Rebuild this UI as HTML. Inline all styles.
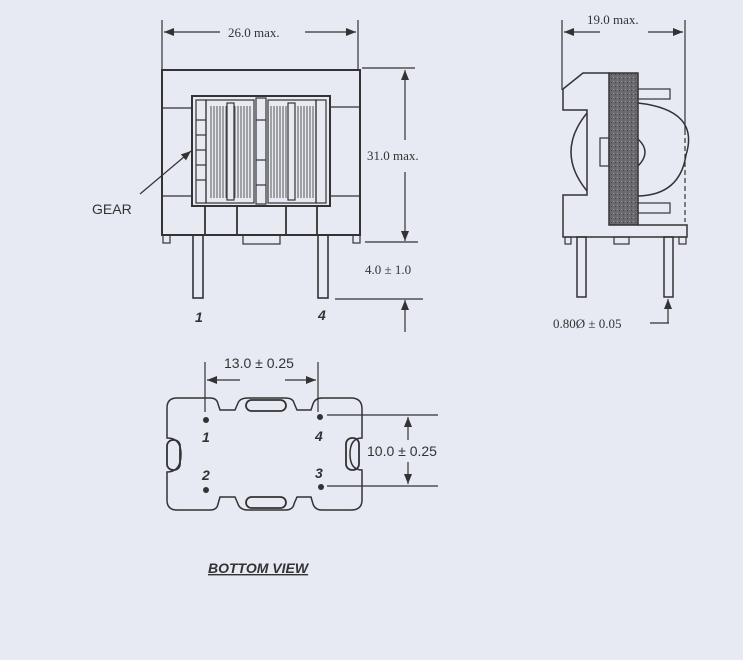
<!DOCTYPE html>
<html><head><meta charset="utf-8"><style>
html,body{margin:0;padding:0;background:#e7eaf3;}
svg{display:block;}
.s{font-family:"Liberation Serif",serif;font-size:13px;fill:#333;}
.a{font-family:"Liberation Sans",sans-serif;font-size:14px;fill:#333;}
</style></head><body>
<svg width="743" height="660" viewBox="0 0 743 660" xmlns="http://www.w3.org/2000/svg">
<defs>
<marker id="ar" markerWidth="10" markerHeight="8" refX="10" refY="4" orient="auto" markerUnits="userSpaceOnUse"><path d="M0,0 L10,4 L0,8 z" fill="#333"/></marker>
<pattern id="hatch" width="3" height="4" patternUnits="userSpaceOnUse"><rect width="3" height="4" fill="#e7eaf3"/><line x1="1" y1="0" x2="1" y2="4" stroke="#555" stroke-width="1"/></pattern>
<pattern id="dots" width="4" height="4" patternUnits="userSpaceOnUse"><rect width="4" height="4" fill="#6a6a70"/><rect x="1" y="1" width="1" height="1" fill="#999"/><rect x="3" y="2" width="1" height="1" fill="#444"/></pattern>
</defs>
<g stroke="#333" stroke-width="1.2" fill="none">
<!-- front view -->
<line x1="162" y1="20" x2="162" y2="70"/><line x1="358" y1="20" x2="358" y2="70"/>
<line x1="164" y1="32" x2="220" y2="32" marker-end="url(#ar)" transform="rotate(180 192 32)"/>
<line x1="305" y1="32" x2="356" y2="32" marker-end="url(#ar)"/>
<rect x="162" y="70" width="198" height="165" stroke-width="2"/>
<line x1="162" y1="108" x2="192" y2="108"/><line x1="330" y1="107" x2="360" y2="107"/>
<line x1="162" y1="196" x2="192" y2="196"/><line x1="330" y1="196" x2="360" y2="196"/>
<rect x="192" y="96" width="138" height="110" stroke-width="2"/>
<rect x="196" y="100" width="10" height="103"/>
<rect x="316" y="100" width="10" height="103"/>
<rect x="206" y="100" width="48" height="103"/>
<rect x="268" y="100" width="48" height="103"/>
<rect x="209" y="106" width="18" height="92" fill="url(#hatch)" stroke="none"/>
<rect x="234" y="106" width="18" height="92" fill="url(#hatch)" stroke="none"/>
<rect x="270" y="106" width="18" height="92" fill="url(#hatch)" stroke="none"/>
<rect x="295" y="106" width="19" height="92" fill="url(#hatch)" stroke="none"/>
<rect x="227" y="103" width="7" height="97"/><rect x="288" y="103" width="7" height="97"/>
<rect x="256" y="98" width="10" height="106"/>
<line x1="196" y1="120" x2="206" y2="120"/><line x1="196" y1="135" x2="206" y2="135"/><line x1="196" y1="150" x2="206" y2="150"/><line x1="196" y1="165" x2="206" y2="165"/><line x1="196" y1="180" x2="206" y2="180"/>
<line x1="256" y1="120" x2="266" y2="120"/><line x1="256" y1="160" x2="266" y2="160"/><line x1="256" y1="185" x2="266" y2="185"/>
<line x1="205" y1="206" x2="205" y2="235" stroke-width="1.8"/><line x1="237" y1="206" x2="237" y2="235" stroke-width="1.8"/>
<line x1="286" y1="206" x2="286" y2="235" stroke-width="1.8"/><line x1="317" y1="206" x2="317" y2="235" stroke-width="1.8"/>
<rect x="163" y="235" width="7" height="8"/><rect x="353" y="235" width="7" height="8"/>
<rect x="243" y="235" width="37" height="9"/>
<rect x="193" y="235" width="10" height="63" stroke-width="1.6"/>
<rect x="318" y="235" width="10" height="63" stroke-width="1.6"/>
<line x1="140" y1="194" x2="191" y2="151" marker-end="url(#ar)"/>
<!-- 31 dim -->
<line x1="362" y1="68" x2="415" y2="68"/><line x1="365" y1="242" x2="418" y2="242"/>
<line x1="405" y1="140" x2="405" y2="70" marker-end="url(#ar)"/>
<line x1="405" y1="172" x2="405" y2="241" marker-end="url(#ar)"/>
<line x1="335" y1="299" x2="423" y2="299"/>
<line x1="405" y1="332" x2="405" y2="300" marker-end="url(#ar)"/>
<!-- side view -->
<line x1="562" y1="20" x2="562" y2="90"/><line x1="685" y1="20" x2="685" y2="130"/>
<line x1="685" y1="130" x2="685" y2="222" stroke-dasharray="5,3"/>
<line x1="600" y1="32" x2="564" y2="32" marker-end="url(#ar)"/>
<line x1="648" y1="32" x2="683" y2="32" marker-end="url(#ar)"/>
<path d="M563,89 L583,73 L609,73 M563,89 L563,110 L587,110 L587,195 L563,195 L563,237 L687,237 L687,225 L638,225" stroke-width="1.5"/>
<path d="M587,113 Q555,152 587,191" stroke-width="1.5"/>
<path d="M638,103 Q700,110 686,155 Q680,195 638,196" stroke-width="1.5"/>
<path d="M638,139 Q652,152 638,166" stroke-width="1.5"/>
<rect x="600" y="138" width="9" height="28"/>
<rect x="638" y="89" width="32" height="10"/><rect x="638" y="203" width="32" height="10"/>
<rect x="609" y="73" width="29" height="152" fill="url(#dots)" stroke-width="1.5"/>
<rect x="565" y="237" width="6" height="7"/><rect x="614" y="237" width="15" height="7"/><rect x="679" y="237" width="7" height="7"/>
<rect x="577" y="237" width="9" height="60" stroke-width="1.5"/>
<rect x="664" y="237" width="9" height="60" stroke-width="1.5"/>
<line x1="650" y1="323" x2="669" y2="323"/>
<line x1="668" y1="323" x2="668" y2="299" marker-end="url(#ar)"/>
<!-- bottom view -->
<path d="M177,398 L210,398 Q217,398 218,404 L220,410 L235,410 L238,403 Q240,398 248,398 L285,398 Q293,398 294,403 L297,410 L311,410 L313,404 Q315,398 322,398 L351,398 Q362,398 362,409 L362,438 Q350,438 350,454 Q350,470 362,470 L362,500 Q362,510 351,510 L322,510 Q315,510 313,504 L311,497 L297,497 L294,504 Q293,510 285,510 L248,510 Q240,510 238,504 L235,497 L220,497 L218,504 Q217,510 210,510 L177,510 Q167,510 167,500 L167,472 Q181,472 181,454 Q181,438 167,438 L167,408 Q167,398 177,398 Z" stroke-width="1.5"/>
<rect x="246" y="400" width="40" height="11" rx="5.5" stroke-width="1.8"/>
<rect x="246" y="497" width="40" height="11" rx="5.5" stroke-width="1.8"/>
<rect x="167" y="440" width="13" height="30" rx="6" stroke-width="1.8"/>
<rect x="346" y="438" width="13" height="32" rx="6" stroke-width="1.8"/>
<line x1="205" y1="362" x2="205" y2="412"/><line x1="318" y1="362" x2="318" y2="412"/>
<line x1="240" y1="380" x2="207" y2="380" marker-end="url(#ar)"/>
<line x1="285" y1="380" x2="316" y2="380" marker-end="url(#ar)"/>
<line x1="327" y1="415" x2="438" y2="415"/><line x1="327" y1="486" x2="438" y2="486"/>
<line x1="408" y1="440" x2="408" y2="417" marker-end="url(#ar)"/>
<line x1="408" y1="462" x2="408" y2="484" marker-end="url(#ar)"/>
</g>
<g fill="#333">
<circle cx="206" cy="420" r="3"/><circle cx="320" cy="417" r="3"/><circle cx="206" cy="490" r="3"/><circle cx="321" cy="487" r="3"/>
</g>
<text class="s" x="228" y="37">26.0 max.</text>
<text class="s" x="587" y="24">19.0 max.</text>
<text class="s" x="367" y="160">31.0 max.</text>
<text class="s" x="365" y="274">4.0 ± 1.0</text>
<text class="s" x="553" y="328">0.80Ø ± 0.05</text>
<text class="a" x="92" y="214">GEAR</text>
<text class="a" x="195" y="322" font-style="italic" font-weight="bold">1</text>
<text class="a" x="318" y="320" font-style="italic" font-weight="bold">4</text>
<text class="a" x="224" y="368">13.0 ± 0.25</text>
<text class="a" x="367" y="456">10.0 ± 0.25</text>
<text class="a" x="202" y="442" font-style="italic" font-weight="bold">1</text>
<text class="a" x="315" y="441" font-style="italic" font-weight="bold">4</text>
<text class="a" x="202" y="480" font-style="italic" font-weight="bold">2</text>
<text class="a" x="315" y="478" font-style="italic" font-weight="bold">3</text>
<text class="a" x="208" y="573" font-style="italic" font-weight="bold" font-size="13" text-decoration="underline">BOTTOM VIEW</text>
</svg>
</body></html>
